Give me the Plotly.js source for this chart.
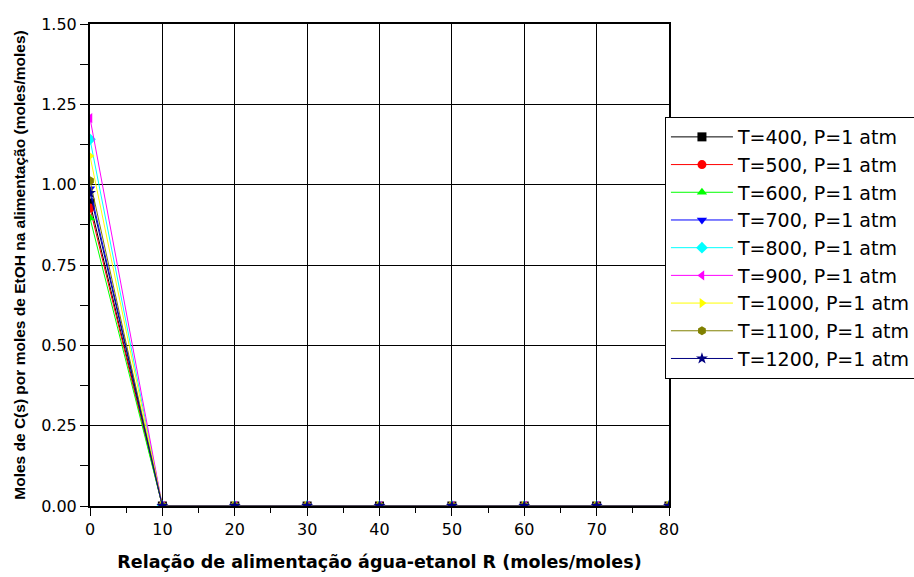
<!DOCTYPE html>
<html>
<head>
<meta charset="utf-8">
<script src="https://cdn.plot.ly/plotly-3.0.1.min.js"></script>
<style>html,body{margin:0;padding:0;background:#fff;}#chart{width:914px;height:577px;}</style>
</head>
<body>
<div id="chart"></div>
<script>
const R = [0, 10, 20, 30, 40, 50, 60, 70, 80];
const seriesNames = ["T=400, P=1 atm","T=500, P=1 atm","T=600, P=1 atm","T=700, P=1 atm","T=800, P=1 atm","T=900, P=1 atm","T=1000, P=1 atm","T=1100, P=1 atm","T=1200, P=1 atm"];
const T400 = [0.943, 0, 0, 0, 0, 0, 0, 0, 0];
const T500 = [0.927, 0, 0, 0, 0, 0, 0, 0, 0];
const T600 = [0.896, 0, 0, 0, 0, 0, 0, 0, 0];
const T700 = [0.987, 0, 0, 0, 0, 0, 0, 0, 0];
const T800 = [1.141, 0, 0, 0, 0, 0, 0, 0, 0];
const T900 = [1.207, 0, 0, 0, 0, 0, 0, 0, 0];
const T1000 = [1.089, 0, 0, 0, 0, 0, 0, 0, 0];
const T1100 = [1.012, 0, 0, 0, 0, 0, 0, 0, 0];
const T1200 = [0.974, 0, 0, 0, 0, 0, 0, 0, 0];
const xTicks = [0, 10, 20, 30, 40, 50, 60, 70, 80];
const yTicks = [0, 0.25, 0.5, 0.75, 1.0, 1.25, 1.5];
const yTickLabels = ["0.00","0.25","0.50","0.75","1.00","1.25","1.50"];

const allY = [T400, T500, T600, T700, T800, T900, T1000, T1100, T1200];
const colors = ["#000000","#ff0000","#00ff00","#0000ff","#00ffff","#ff00ff","#ffff00","#808000","#000080"];
const symbols = ["square","circle","triangle-up","triangle-down","diamond","triangle-left","triangle-right","hexagon","star"];

const traces = allY.map((y, i) => ({
  x: R, y: y, type: 'scatter', mode: 'lines+markers', name: seriesNames[i],
  legendgroup: 'g' + i,
  line: {color: colors[i], width: 1},
  marker: {color: colors[i], symbol: symbols[i], size: 9}
}));

const wide = {family: 'DejaVu Sans, sans-serif', color: '#000'};
const narrow = {family: 'Liberation Sans, Arial, sans-serif', color: '#000'};
const layout = {
  width: 914, height: 577,
  margin: {l: 90, r: 245, t: 24, b: 71, autoexpand: false},
  paper_bgcolor: '#fff', plot_bgcolor: '#fff',
  font: Object.assign({size: 16}, wide),
  showlegend: true,
  legend: {
    x: 0.993, y: 0.807, xanchor: 'left', yanchor: 'top',
    bordercolor: '#000', borderwidth: 1, bgcolor: '#fff',
    font: Object.assign({size: 19}, wide),
    tracegroupgap: 0,
    itemwidth: 62
  },
  xaxis: {
    range: [0, 80], tickvals: xTicks, ticktext: xTicks.map(String),
    ticks: 'outside', ticklen: 8, tickcolor: '#000', tickwidth: 1,
    minor: {dtick: 5, ticks: 'outside', ticklen: 5, tickcolor: '#000', showgrid: false},
    showgrid: true, gridcolor: '#000', gridwidth: 1,
    showline: true, linecolor: '#000', linewidth: 2, mirror: true,
    zeroline: false,
    tickfont: Object.assign({size: 16}, wide),
    title: {text: '<b>Relação de alimentação água-etanol R (moles/moles)</b>', font: Object.assign({size: 17.5}, wide), standoff: 18}
  },
  yaxis: {
    range: [0, 1.5], tickvals: yTicks, ticktext: yTickLabels,
    ticks: 'outside', ticklen: 8, tickcolor: '#000', tickwidth: 1,
    minor: {dtick: 0.125, ticks: 'outside', ticklen: 8, tickcolor: '#000', showgrid: false},
    showgrid: true, gridcolor: '#000', gridwidth: 1,
    showline: true, linecolor: '#000', linewidth: 2, mirror: true,
    zeroline: false,
    tickfont: Object.assign({size: 16}, wide),
    title: {text: '<b>Moles de C(s) por moles de EtOH na alimentação (moles/moles)</b>', font: Object.assign({size: 15.5}, narrow), standoff: 12}
  }
};

Plotly.newPlot('chart', traces, layout, {displayModeBar: false, staticPlot: true});
</script>
</body>
</html>
